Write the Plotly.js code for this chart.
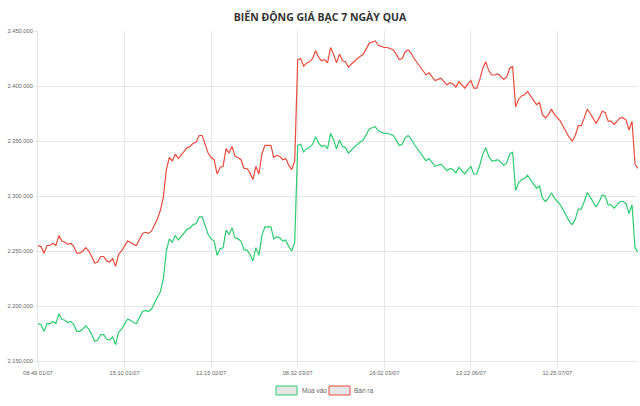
<!DOCTYPE html>
<html>
<head>
<meta charset="utf-8">
<script src="https://cdn.plot.ly/plotly-3.0.1.min.js"></script>
<style>html,body{margin:0;padding:0;background:#fff;}#chart{width:640px;height:406px;}</style>
</head>
<body>
<div id="chart"></div>
<script>
var tickLabels = ["08:49 01/07","15:10 01/07","12:15 02/07","08:32 03/07","16:02 03/07","13:22 06/07","11:25 07/07"];
var tickIndex = [0, 29, 58, 87, 116, 145, 174];

var banRa = [
2255000,2254000,2248000,2255000,2255000,2257000,2255000,2264000,2259000,2258000,
2256000,2257000,2254000,2248000,2248000,2250000,2253000,2250000,2245000,2239000,
2240000,2245000,2245000,2241000,2240000,2243000,2236000,2247000,2250000,2255000,
2259000,2258000,2256000,2255000,2261000,2266000,2267000,2266000,2268000,2274000,
2279000,2287000,2299000,2324000,2335000,2332000,2338000,2334000,2337000,2340000,
2344000,2345000,2348000,2349000,2355000,2355000,2347000,2339000,2335000,2333000,
2320000,2326000,2327000,2343000,2339000,2345000,2336000,2335000,2333000,2325000,
2325000,2321000,2315000,2327000,2320000,2338000,2346000,2346000,2346000,2335000,
2337000,2336000,2333000,2334000,2328000,2324000,2332000,2424000,2425000,2418000,
2421000,2422000,2425000,2432000,2426000,2423000,2424000,2421000,2435000,2429000,
2421000,2429000,2423000,2422000,2417000,2420000,2423000,2425000,2427000,2429000,
2434000,2439000,2440000,2441000,2437000,2436000,2435000,2435000,2434000,2433000,
2429000,2424000,2425000,2431000,2433000,2430000,2425000,2421000,2418000,2414000,
2410000,2412000,2408000,2405000,2406000,2407000,2404000,2401000,2403000,2402000,
2399000,2404000,2401000,2398000,2402000,2405000,2398000,2398000,2406000,2416000,
2422000,2414000,2410000,2410000,2411000,2409000,2406000,2408000,2416000,2418000,
2381000,2388000,2391000,2392000,2395000,2391000,2386000,2383000,2385000,2374000,
2371000,2374000,2379000,2374000,2371000,2368000,2363000,2358000,2353000,2350000,
2355000,2364000,2364000,2371000,2379000,2375000,2370000,2366000,2371000,2377000,
2376000,2368000,2368000,2365000,2368000,2371000,2371000,2369000,2360000,2368000,
2329000,2325000
];

var muaVao = [
2184000,2183000,2177000,2184000,2184000,2186000,2184000,2193000,2188000,2187000,
2185000,2186000,2183000,2177000,2177000,2179000,2182000,2179000,2174000,2168000,
2169000,2174000,2174000,2170000,2169000,2172000,2165000,2176000,2179000,2184000,
2188000,2187000,2185000,2184000,2190000,2195000,2196000,2195000,2197000,2203000,
2208000,2213000,2225000,2250000,2261000,2258000,2264000,2260000,2263000,2266000,
2270000,2271000,2274000,2275000,2281000,2281000,2273000,2265000,2261000,2259000,
2246000,2252000,2253000,2269000,2265000,2271000,2262000,2261000,2259000,2251000,
2251000,2247000,2241000,2253000,2246000,2264000,2272000,2272000,2272000,2261000,
2263000,2262000,2259000,2260000,2254000,2250000,2258000,2346000,2347000,2340000,
2343000,2344000,2347000,2354000,2348000,2345000,2346000,2343000,2357000,2351000,
2343000,2351000,2345000,2344000,2339000,2342000,2345000,2347000,2349000,2351000,
2356000,2361000,2362000,2363000,2359000,2358000,2357000,2357000,2356000,2355000,
2351000,2346000,2347000,2353000,2355000,2352000,2347000,2343000,2340000,2336000,
2332000,2334000,2330000,2327000,2328000,2329000,2326000,2323000,2325000,2324000,
2321000,2326000,2323000,2320000,2324000,2327000,2320000,2320000,2328000,2338000,
2344000,2336000,2332000,2332000,2333000,2331000,2328000,2330000,2338000,2340000,
2305000,2312000,2315000,2316000,2319000,2315000,2310000,2307000,2309000,2298000,
2295000,2298000,2303000,2298000,2295000,2292000,2287000,2282000,2277000,2274000,
2279000,2288000,2288000,2295000,2303000,2299000,2294000,2290000,2295000,2301000,
2300000,2292000,2292000,2289000,2292000,2295000,2295000,2293000,2284000,2292000,
2253000,2249000
];

var seriesNames = ["Mua vào", "Bán ra"];
var seriesColors = ["#2ecc71", "#e74c3c"];

var idx = muaVao.map(function(_, i){ return i; });

var traces = [
  {x: idx, y: muaVao, type: 'scatter', mode: 'lines', name: seriesNames[0],
   line: {color: seriesColors[0], width: 1.2}, hoverinfo: 'skip'},
  {x: idx, y: banRa, type: 'scatter', mode: 'lines', name: seriesNames[1],
   line: {color: seriesColors[1], width: 1.2}, hoverinfo: 'skip'}
];

var gridC = '#e6e6e6';
var layout = {
  width: 640, height: 406,
  margin: {l: 38, r: 2, t: 31, b: 45},
  paper_bgcolor: '#fff', plot_bgcolor: '#fff',
  separators: ',.',
  showlegend: false,
  font: {family: 'Liberation Sans, Arial, sans-serif', size: 6, color: '#666'},
  title: {
    text: 'BIẾN ĐỘNG GIÁ BẠC 7 NGÀY QUA',
    font: {family: 'Open Sans, sans-serif', size: 10.5, color: '#333', weight: 700},
    x: 0.5, xanchor: 'center', y: 1 - 17/406, yanchor: 'middle', yref: 'container'
  },
  xaxis: {
    range: [0, idx.length - 1],
    tickvals: tickIndex, ticktext: tickLabels,
    showgrid: true, gridcolor: gridC, gridwidth: 1,
    showline: true, linecolor: gridC, linewidth: 1,
    ticks: 'outside', ticklen: 6, tickcolor: gridC,
    zeroline: false,
    tickfont: {size: 5.7, color: '#666'}
  },
  yaxis: {
    range: [2150000, 2450000],
    tick0: 2150000, dtick: 50000, tickformat: ',d',
    showgrid: true, gridcolor: gridC, gridwidth: 1,
    showline: true, linecolor: gridC, linewidth: 1,
    ticks: 'outside', ticklen: 3, tickcolor: gridC,
    zeroline: false,
    tickfont: {size: 5.7, color: '#666'}
  },
  shapes: [
    {type: 'rect', xref: 'paper', yref: 'paper', x0: 0.3967, x1: 0.4317, y0: -0.0758, y1: -0.103,
     fillcolor: '#e6e6e6', line: {color: seriesColors[0], width: 1}, layer: 'above'},
    {type: 'rect', xref: 'paper', yref: 'paper', x0: 0.485, x1: 0.52, y0: -0.0758, y1: -0.103,
     fillcolor: '#e6e6e6', line: {color: seriesColors[1], width: 1}, layer: 'above'}
  ],
  annotations: [
    {xref: 'paper', yref: 'paper', x: 0.436, y: -0.0894, xanchor: 'left', yanchor: 'middle',
     text: seriesNames[0], showarrow: false, font: {size: 6.5, color: '#666'}},
    {xref: 'paper', yref: 'paper', x: 0.524, y: -0.0894, xanchor: 'left', yanchor: 'middle',
     text: seriesNames[1], showarrow: false, font: {size: 6.5, color: '#666'}}
  ]
};

Plotly.newPlot('chart', traces, layout, {staticPlot: true, displayModeBar: false});
</script>
</body>
</html>
